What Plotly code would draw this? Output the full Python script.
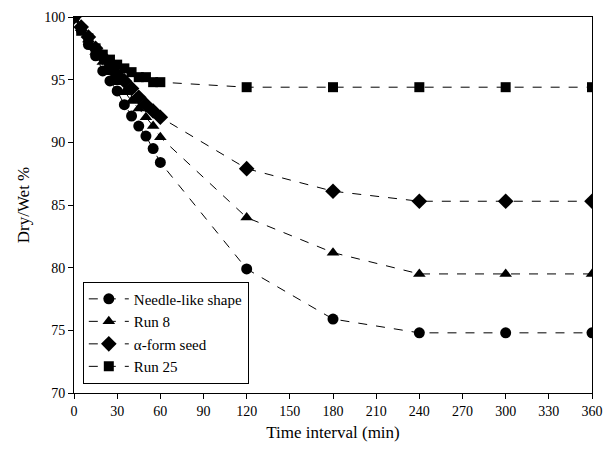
import plotly.graph_objects as go

time = [0, 5, 10, 15, 20, 25, 30, 35, 40, 45, 50, 55, 60, 120, 180, 240, 300, 360]
needle = [100, 99.0, 97.8, 96.9, 95.7, 94.9, 94.1, 93.0, 92.1, 91.3, 90.5, 89.5, 88.4, 79.9, 75.9, 74.8, 74.8, 74.8]
run8 = [100, 99.1, 98.2, 97.2, 96.4, 95.6, 94.8, 94.0, 93.3, 92.7, 92.0, 91.3, 90.4, 84.0, 81.2, 79.5, 79.5, 79.5]
alpha_seed = [100, 99.2, 98.4, 97.5, 96.8, 96.0, 95.4, 94.9, 94.3, 93.6, 93.0, 92.5, 92.0, 87.9, 86.1, 85.3, 85.3, 85.3]
run25 = [100, 98.9, 98.3, 97.5, 97.0, 96.6, 96.2, 95.9, 95.6, 95.2, 95.2, 94.8, 94.8, 94.4, 94.4, 94.4, 94.4, 94.4]

names = ["Needle-like shape", "Run 8", "α-form seed", "Run 25"]
symbols = ["circle", "triangle-up", "diamond", "square"]
series = [needle, run8, alpha_seed, run25]
sizes = [11, 11, 12, 10]

fig = go.Figure()
for nm, sym, ys, sz in zip(names, symbols, series, sizes):
    fig.add_trace(go.Scatter(
        x=time, y=ys, name=nm, mode="lines+markers",
        line=dict(color="black", width=1, dash="dash"),
        marker=dict(symbol=sym, size=sz, color="black"),
    ))

font = "Liberation Serif, Times New Roman, serif"
fig.update_layout(
    width=605, height=451,
    margin=dict(l=74, r=13, t=17, b=58, autoexpand=False),
    paper_bgcolor="white", plot_bgcolor="white",
    font=dict(family=font, size=15, color="black"),
    showlegend=True,
    legend=dict(x=0.017, y=0.025, xanchor="left", yanchor="bottom",
                bordercolor="black", borderwidth=1, bgcolor="white",
                font=dict(family=font, size=15), tracegroupgap=0,
                itemwidth=40),
    xaxis=dict(range=[0, 360], tickvals=list(range(0, 361, 30)),
               showline=True, linecolor="black", linewidth=1, mirror=True,
               ticks="outside", ticklen=5, tickcolor="black", showgrid=False, zeroline=False,
               ticklabeloverflow="allow", automargin=False, tickfont=dict(size=14),
               title=dict(text="Time interval (min)", font=dict(size=17), standoff=8)),
    yaxis=dict(range=[70, 100], tickvals=list(range(70, 101, 5)),
               showline=True, linecolor="black", linewidth=1, mirror=True,
               ticks="outside", ticklen=5, tickcolor="black", showgrid=False, zeroline=False,
               automargin=False, tickfont=dict(size=14),
               title=dict(text="Dry/Wet %", font=dict(size=17), standoff=10)),
)
fig.write_html("out.html", config={"displayModeBar": False},
               post_script="document.body.style.margin='0';document.body.style.overflow='hidden';")
